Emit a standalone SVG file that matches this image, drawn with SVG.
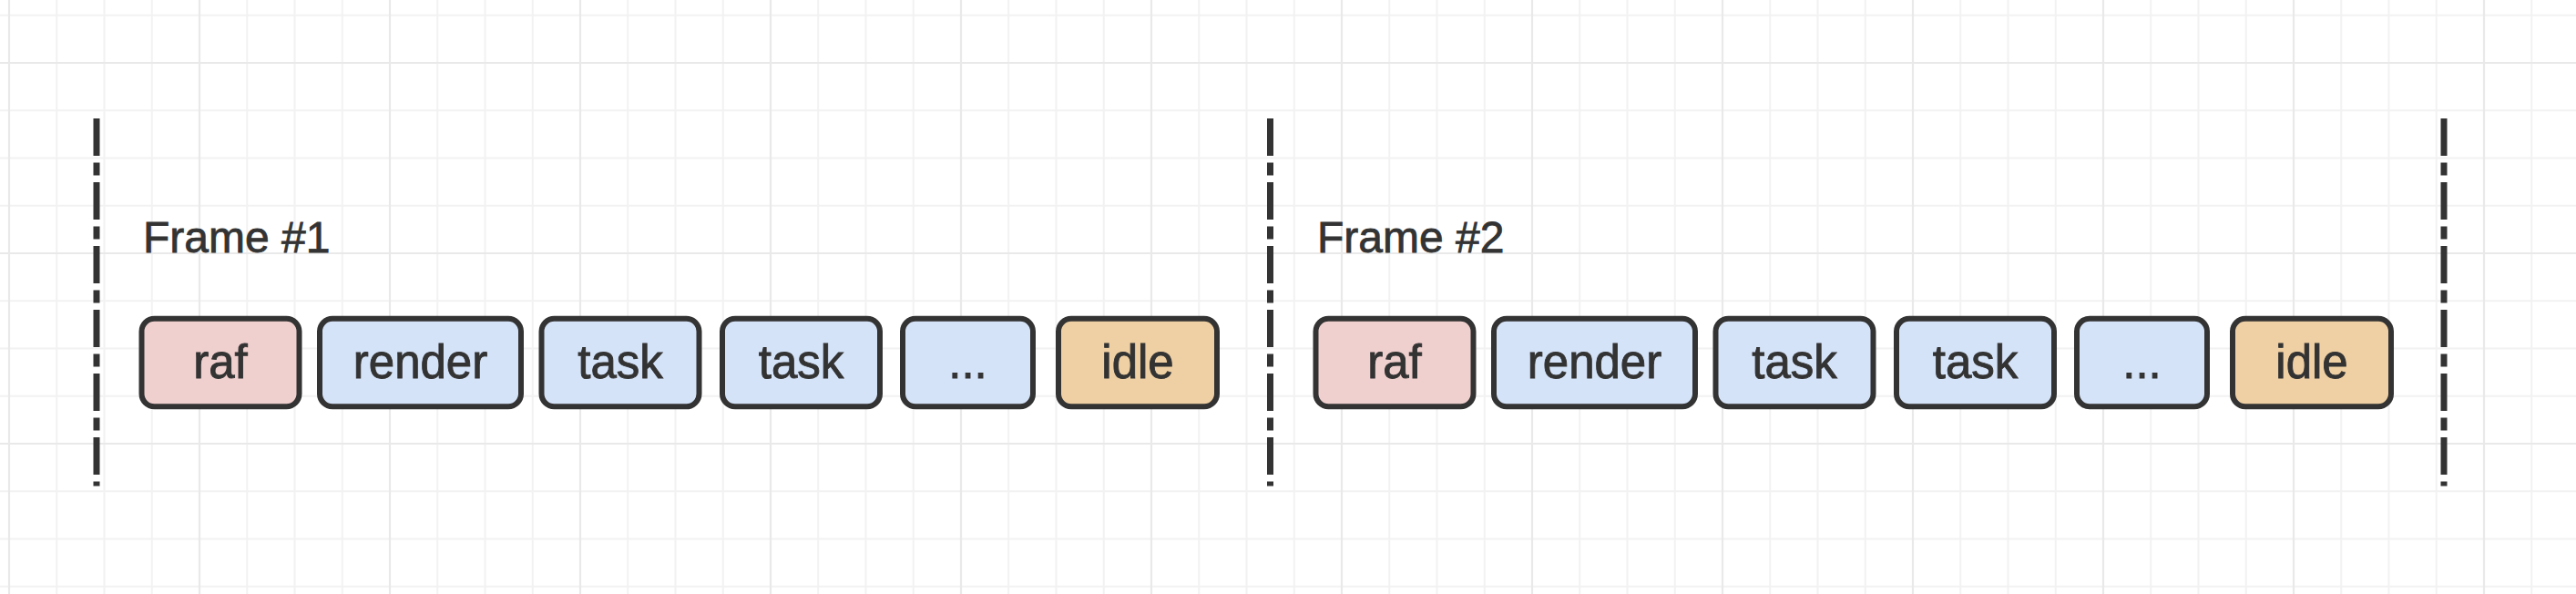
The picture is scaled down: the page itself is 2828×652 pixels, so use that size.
<svg xmlns="http://www.w3.org/2000/svg" width="2828" height="652" viewBox="0 0 2828 652">
<style>
.grid-minor{stroke:#f2f2f2;stroke-width:2;fill:none}
.grid-major{stroke:#e9e9e9;stroke-width:2.2;fill:none}
.box rect{stroke:#333333;stroke-width:6;rx:14;ry:14}
.raf rect{fill:#f0d0cf}
.blue rect{fill:#d5e3f8}
.idle rect{fill:#efd0a4}
.box text{font-family:"Liberation Sans",Arial,Helvetica,sans-serif;font-size:51px;fill:#333333;stroke:#333333;stroke-width:0.9;text-anchor:middle}
.label{font-family:"Liberation Sans",Arial,Helvetica,sans-serif;font-size:48px;fill:#333333;stroke:#333333;stroke-width:0.8}
.divider{stroke:#333333;stroke-width:7;stroke-dasharray:41 7.5 14 7.5;fill:none}
</style>
<rect x="0" y="0" width="2828" height="652" fill="#ffffff"/>
<g id="grid">
<path class="grid-minor" d="M62.25 0V652M114.5 0V652M166.75 0V652M271.25 0V652M323.5 0V652M375.75 0V652M480.25 0V652M532.5 0V652M584.75 0V652M689.25 0V652M741.5 0V652M793.75 0V652M898.25 0V652M950.5 0V652M1002.75 0V652M1107.25 0V652M1159.5 0V652M1211.75 0V652M1316.25 0V652M1368.5 0V652M1420.75 0V652M1525.25 0V652M1577.5 0V652M1629.75 0V652M1734.25 0V652M1786.5 0V652M1838.75 0V652M1943.25 0V652M1995.5 0V652M2047.75 0V652M2152.25 0V652M2204.5 0V652M2256.75 0V652M2361.25 0V652M2413.5 0V652M2465.75 0V652M2570.25 0V652M2622.5 0V652M2674.75 0V652M2779.25 0V652M0 16.75H2828M0 121.25H2828M0 173.5H2828M0 225.75H2828M0 330.25H2828M0 382.5H2828M0 434.75H2828M0 539.25H2828M0 591.5H2828M0 643.75H2828"/>
<path class="grid-major" d="M10 0V652M219 0V652M428 0V652M637 0V652M846 0V652M1055 0V652M1264 0V652M1473 0V652M1682 0V652M1891 0V652M2100 0V652M2309 0V652M2518 0V652M2727 0V652M0 69H2828M0 278H2828M0 487H2828"/>
</g>
<g id="dividers">
<line class="divider" x1="106" y1="130" x2="106" y2="533.5"/>
<line class="divider" x1="1394.5" y1="130" x2="1394.5" y2="533.5"/>
<line class="divider" x1="2683" y1="130" x2="2683" y2="533.5"/>
</g>
<g id="frame1-label"><text class="label" x="157" y="277">Frame #1</text></g>
<g id="frame2-label"><text class="label" x="1446" y="277">Frame #2</text></g>
<g id="f1-raf" class="box raf"><rect x="155.5" y="349.7" width="173" height="96.6"/><text x="242" y="415">raf</text></g>
<g id="f1-render" class="box blue"><rect x="351" y="349.7" width="221" height="96.6"/><text x="461.5" y="415">render</text></g>
<g id="f1-task1" class="box blue"><rect x="594.5" y="349.7" width="173" height="96.6"/><text x="681" y="415">task</text></g>
<g id="f1-task2" class="box blue"><rect x="793" y="349.7" width="173" height="96.6"/><text x="879.5" y="415">task</text></g>
<g id="f1-more" class="box blue"><rect x="991" y="349.7" width="143" height="96.6"/><text x="1062.5" y="415">...</text></g>
<g id="f1-idle" class="box idle"><rect x="1162" y="349.7" width="174" height="96.6"/><text x="1249" y="415">idle</text></g>
<g id="f2-raf" class="box raf"><rect x="1444.5" y="349.7" width="173" height="96.6"/><text x="1531" y="415">raf</text></g>
<g id="f2-render" class="box blue"><rect x="1640" y="349.7" width="221" height="96.6"/><text x="1750.5" y="415">render</text></g>
<g id="f2-task1" class="box blue"><rect x="1883.5" y="349.7" width="173" height="96.6"/><text x="1970" y="415">task</text></g>
<g id="f2-task2" class="box blue"><rect x="2082" y="349.7" width="173" height="96.6"/><text x="2168.5" y="415">task</text></g>
<g id="f2-more" class="box blue"><rect x="2280" y="349.7" width="143" height="96.6"/><text x="2351.5" y="415">...</text></g>
<g id="f2-idle" class="box idle"><rect x="2451" y="349.7" width="174" height="96.6"/><text x="2538" y="415">idle</text></g>
<g id="connectors"></g>
</svg>
